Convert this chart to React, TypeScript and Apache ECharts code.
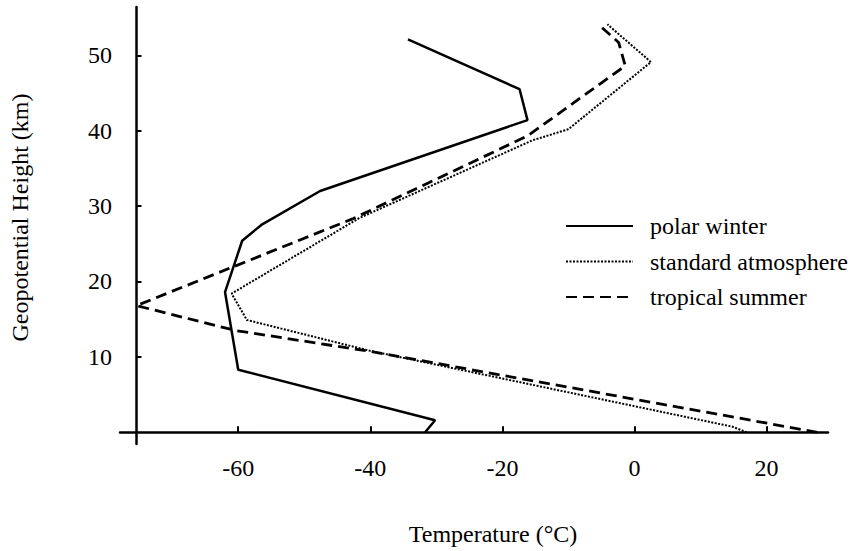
import React, { useEffect, useRef } from "react";
import * as echarts from "echarts";

// Temperature (°C) and geopotential height (km)
const polarT = [-31.7, -30.2, -60.0, -62.0, -59.4, -56.5, -47.6, -16.2, -17.4, -34.3];
const polarH = [0, 1.6, 8.3, 18.6, 25.4, 27.5, 32.0, 41.4, 45.5, 52.1];
const stdT = [17.0, 14.8, -40.0, -58.7, -61.0, -41.7, -15.5, -10.0, 2.5, -4.1];
const stdH = [0, 0.75, 10.8, 14.9, 18.4, 28.4, 38.7, 40.2, 49.1, 54.1];
const tropT = [27.7, -39.8, -60.4, -75.4, -42.7, -16.2, -1.4, -2.4, -5.1];
const tropH = [0, 10.7, 13.5, 16.8, 28.3, 39.3, 48.6, 51.7, 53.8];

const xTicks = [-60, -40, -20, 0, 20];
const yTicks = [10, 20, 30, 40, 50];

const seriesNames = ["polar winter", "standard atmosphere", "tropical summer"];

const zip = (xs: number[], ys: number[]) => xs.map((x, i) => [x, ys[i]]);

const FONT = "Liberation Serif";

export default function App() {
  const ref = useRef<HTMLDivElement>(null);
  useEffect(() => {
    document.body.style.margin = "0";
    const chart = echarts.init(ref.current!, undefined, { renderer: "svg" });
    const axisLineStyle = { color: "#000", width: 2.5 };
    const labelStyle = { fontSize: 24, fontFamily: FONT, color: "#000" };
    chart.setOption({
      animation: false,
      backgroundColor: "#fff",
      grid: { left: 102, right: 29, top: 7, bottom: 94, containLabel: false },
      legend: {
        orient: "vertical",
        left: 565,
        top: 214,
        padding: 0,
        itemWidth: 67,
        itemHeight: 14,
        itemGap: 11.5,
        data: seriesNames,
        itemStyle: { opacity: 0, color: "transparent", borderWidth: 0 },
        textStyle: { ...labelStyle, padding: [0, 0, 0, 12] },
      },
      xAxis: [
        {
          type: "value",
          min: -77.9,
          max: 29.3,
          axisLine: { show: true, onZero: true, lineStyle: axisLineStyle },
          axisTick: {
            show: true,
            inside: true,
            length: 6,
            customValues: xTicks,
            lineStyle: { color: "#000", width: 2 },
          },
          axisLabel: { ...labelStyle, margin: 12, customValues: xTicks },
          splitLine: { show: false },
          name: "Temperature (°C)",
          nameLocation: "middle",
          nameGap: 78,
          nameTextStyle: { ...labelStyle, padding: [0, 0, 0, 38] },
        },
        {
          type: "value",
          min: -2.5,
          max: 104.7,
          show: false,
        },
      ],
      yAxis: {
        type: "value",
        min: -1.55,
        max: 56.4,
        axisLine: { show: true, onZero: true, onZeroAxisIndex: 1, lineStyle: axisLineStyle },
        axisTick: {
          show: true,
          inside: true,
          length: 5,
          customValues: yTicks,
          lineStyle: { color: "#000", width: 2 },
        },
        axisLabel: { ...labelStyle, margin: 8, customValues: yTicks },
        splitLine: { show: false },
        name: "Geopotential Height (km)",
        nameLocation: "middle",
        nameRotate: 90,
        nameGap: 88,
        nameTextStyle: { ...labelStyle, padding: [0, 0, 0, 16] },
      },
      series: [
        {
          name: seriesNames[0],
          type: "line",
          data: zip(polarT, polarH),
          symbol: "none",
          clip: false,
          lineStyle: { color: "#000", width: 2.5, type: "solid" },
          itemStyle: { color: "#000" },
        },
        {
          name: seriesNames[1],
          type: "line",
          data: zip(stdT, stdH),
          symbol: "none",
          clip: false,
          lineStyle: { color: "#000", width: 2, type: [2, 1.5] },
          itemStyle: { color: "#000" },
        },
        {
          name: seriesNames[2],
          type: "line",
          data: zip(tropT, tropH),
          symbol: "none",
          clip: false,
          lineStyle: { color: "#000", width: 2.8, type: [11, 6] },
          itemStyle: { color: "#000" },
        },
      ],
    });
    return () => chart.dispose();
  }, []);
  return <div ref={ref} style={{ width: 857, height: 551 }} />;
}
